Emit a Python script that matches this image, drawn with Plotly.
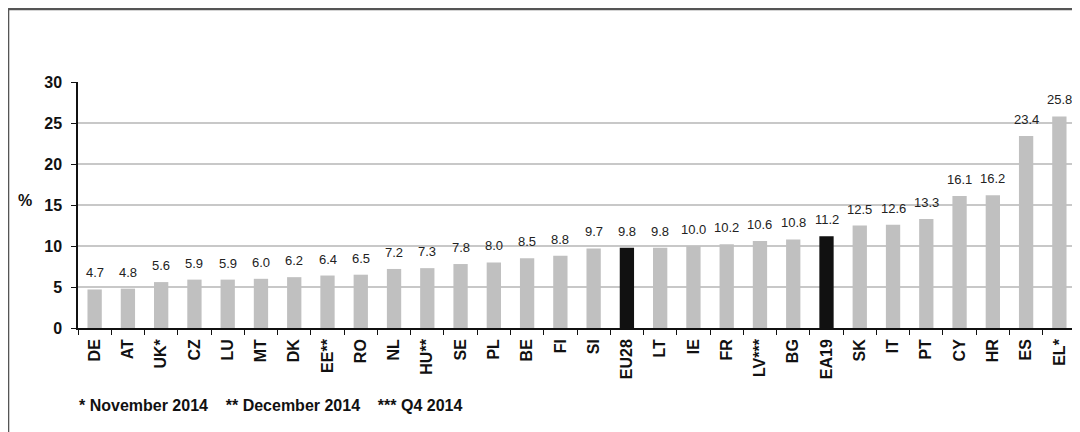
import plotly.graph_objects as go

categories = ["DE", "AT", "UK*", "CZ", "LU", "MT", "DK", "EE**", "RO", "NL", "HU**", "SE", "PL", "BE", "FI",
              "SI", "EU28", "LT", "IE", "FR", "LV***", "BG", "EA19", "SK", "IT", "PT", "CY", "HR", "ES", "EL*"]
values = [4.7, 4.8, 5.6, 5.9, 5.9, 6.0, 6.2, 6.4, 6.5, 7.2, 7.3, 7.8, 8.0, 8.5, 8.8,
          9.7, 9.8, 9.8, 10.0, 10.2, 10.6, 10.8, 11.2, 12.5, 12.6, 13.3, 16.1, 16.2, 23.4, 25.8]
highlight = ["EU28", "EA19"]
footnote = "* November 2014    ** December 2014    *** Q4 2014"

colors = ["#111111" if c in highlight else "#c0c0c0" for c in categories]
FONT = "Arial, Liberation Sans, sans-serif"

fig = go.Figure(go.Bar(
    x=categories, y=values, marker=dict(color=colors, line=dict(width=0)),
    width=0.43,
    cliponaxis=False,
    hoverinfo="x+y",
))

label_annotations = [
    dict(x=c, y=v, text=f"{v:.1f}", xref="x", yref="y", showarrow=False,
         yanchor="bottom", xanchor="center", yshift=7,
         font=dict(family=FONT, size=13, color="#222222"))
    for c, v in zip(categories, values)
]

# page body has an 8px margin, so figure coordinates are offset by 8px
fig.update_layout(
    width=1072, height=424,
    margin=dict(l=70, r=4, t=74, b=104, autoexpand=False),
    paper_bgcolor="white", plot_bgcolor="white",
    showlegend=False,
    font=dict(family=FONT, color="#111111"),
    xaxis=dict(
        tickangle=-90, tickfont=dict(family=FONT, size=16, color="#111111", weight="bold"),
        showline=True, linecolor="#111111", linewidth=1.5,
        ticks="outside", ticklen=5, tickcolor="#111111", tickson="boundaries",
        ticklabelstandoff=3,
        showgrid=False, automargin=False,
    ),
    yaxis=dict(
        range=[0, 30], dtick=5, tickfont=dict(family=FONT, size=16, color="#111111", weight="bold"),
        showline=True, linecolor="#111111", linewidth=1.5,
        ticks="outside", ticklen=5, tickcolor="#111111", ticklabelstandoff=6,
        showgrid=True, gridcolor="#c8c8c8", gridwidth=1.5, zeroline=False, automargin=False,
    ),
    annotations=label_annotations + [
        dict(text="%", x=-0.053, y=0.52, xref="paper", yref="paper", showarrow=False,
             xanchor="center", yanchor="middle",
             font=dict(family=FONT, size=16, color="#111111", weight="bold")),
        dict(text=footnote, x=-0.001, y=-0.317, xref="paper", yref="paper", xanchor="left",
             yanchor="middle",
             showarrow=False, font=dict(family=FONT, size=16, color="#111111", weight="bold")),
    ],
    shapes=[
        dict(type="line", xref="paper", yref="paper", x0=-0.0701, x1=1.1, y0=1.2967, y1=1.2967,
             line=dict(color="#555555", width=2.5)),
        dict(type="line", xref="paper", yref="paper", x0=-0.0701, x1=-0.0701, y0=1.2967, y1=-0.5,
             line=dict(color="#555555", width=2.5)),
    ],
)

fig.write_html("out.html")
